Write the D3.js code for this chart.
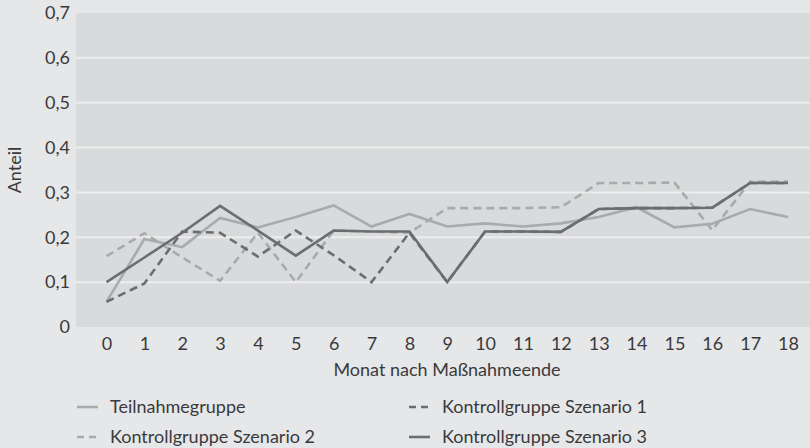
<!DOCTYPE html>
<html>
<head>
<meta charset="utf-8">
<script src="https://cdn.jsdelivr.net/npm/d3@7"></script>
<style>
  html, body { margin: 0; padding: 0; background: #e6e7e8; }
  svg { display: block; }
  text { font-family: Lato, "Open Sans", sans-serif; fill: #3a3a3c; }
</style>
</head>
<body>
<svg id="chart" width="810" height="448"></svg>
<script>
const months = [0,1,2,3,4,5,6,7,8,9,10,11,12,13,14,15,16,17,18];
const yTicks = [0,0.1,0.2,0.3,0.4,0.5,0.6,0.7];
const teilnahme = [0.056,0.196,0.178,0.243,0.222,0.245,0.271,0.224,0.252,0.224,0.231,0.224,0.231,0.245,0.267,0.222,0.23,0.263,0.245];
const kontroll1 = [0.056,0.097,0.213,0.21,0.157,0.215,0.16,0.1,0.21,0.1,0.213,0.213,0.212,0.263,0.265,0.265,0.266,0.321,0.321];
const kontroll2 = [0.158,0.209,0.155,0.103,0.21,0.1,0.215,0.213,0.21,0.265,0.265,0.265,0.267,0.321,0.321,0.322,0.216,0.324,0.324];
const kontroll3 = [0.1,0.155,0.21,0.27,0.215,0.159,0.215,0.213,0.213,0.1,0.213,0.213,0.212,0.263,0.265,0.265,0.266,0.321,0.321];
const seriesNames = ["Teilnahmegruppe","Kontrollgruppe Szenario 1","Kontrollgruppe Szenario 2","Kontrollgruppe Szenario 3"];
const xTitle = "Monat nach Maßnahmeende";
const yTitle = "Anteil";

const LIGHT = "#a9aaac", DARK = "#6c6d6f";
const series = [
  {name: seriesNames[0], values: teilnahme, color: LIGHT, dash: null},
  {name: seriesNames[2], values: kontroll2, color: LIGHT, dash: "8,5"},
  {name: seriesNames[1], values: kontroll1, color: DARK, dash: "8,5"},
  {name: seriesNames[3], values: kontroll3, color: DARK, dash: null}
];

const svg = d3.select("#chart");
const plot = {left: 76, right: 810, top: 13, bottom: 327};

svg.append("rect").attr("x", plot.left).attr("y", plot.top)
  .attr("width", plot.right - plot.left).attr("height", plot.bottom - plot.top)
  .attr("fill", "#d9dadb");

const x = d3.scalePoint().domain(months).range([106.5, 788]);
const y = d3.scaleLinear().domain([0, 0.7]).range([plot.bottom, plot.top]);

// gridlines
svg.append("g").selectAll("line")
  .data(yTicks.filter(t => t > 0 && t < 0.7))
  .join("line")
  .attr("x1", plot.left).attr("x2", plot.right)
  .attr("y1", d => y(d)).attr("y2", d => y(d))
  .attr("stroke", "#ecedee").attr("stroke-width", 2);

// y axis
const yAxis = d3.axisLeft(y).tickValues(yTicks).tickSize(0).tickPadding(6)
  .tickFormat(d => d === 0 ? "0" : d3.format(".1f")(d).replace(".", ","));
const gy = svg.append("g").attr("transform", `translate(${plot.left},0)`).call(yAxis);
gy.select(".domain").remove();
gy.selectAll("text").attr("font-size", 18).attr("font-family", null).style("fill", "#3a3a3c");

// x axis
const xAxis = d3.axisBottom(x).tickSize(0).tickPadding(10);
const gx = svg.append("g").attr("transform", `translate(0,${plot.bottom})`).call(xAxis);
gx.select(".domain").remove();
gx.selectAll("text").attr("font-size", 18).attr("font-family", null).style("fill", "#3a3a3c");

// titles
svg.append("text").attr("x", 447).attr("y", 376).attr("text-anchor", "middle")
  .attr("font-size", 18).text(xTitle);
svg.append("text").attr("transform", `translate(21,170) rotate(-90)`)
  .attr("text-anchor", "middle").attr("font-size", 18).text(yTitle);

// lines
const line = d3.line().x((d, i) => x(months[i])).y(d => y(d));
svg.append("g").selectAll("path")
  .data(series)
  .join("path")
  .attr("d", d => line(d.values))
  .attr("fill", "none")
  .attr("stroke", d => d.color)
  .attr("stroke-width", 2.6)
  .attr("stroke-linejoin", "miter")
  .attr("stroke-dasharray", d => d.dash);

// legend
const legendItems = [
  {name: seriesNames[0], color: LIGHT, dash: null, lx: 77, ly: 407},
  {name: seriesNames[1], color: DARK, dash: "7,5", lx: 409, ly: 407},
  {name: seriesNames[2], color: LIGHT, dash: "7,5", lx: 77, ly: 437},
  {name: seriesNames[3], color: DARK, dash: null, lx: 409, ly: 437}
];
const lg = svg.append("g").selectAll("g").data(legendItems).join("g")
  .attr("transform", d => `translate(${d.lx},${d.ly})`);
lg.append("line").attr("x1", 0).attr("x2", 21).attr("y1", 0).attr("y2", 0)
  .attr("stroke", d => d.color).attr("stroke-width", 2.6)
  .attr("stroke-dasharray", d => d.dash);
lg.append("text").attr("x", 33).attr("y", 6).attr("font-size", 18).text(d => d.name);
</script>
</body>
</html>
